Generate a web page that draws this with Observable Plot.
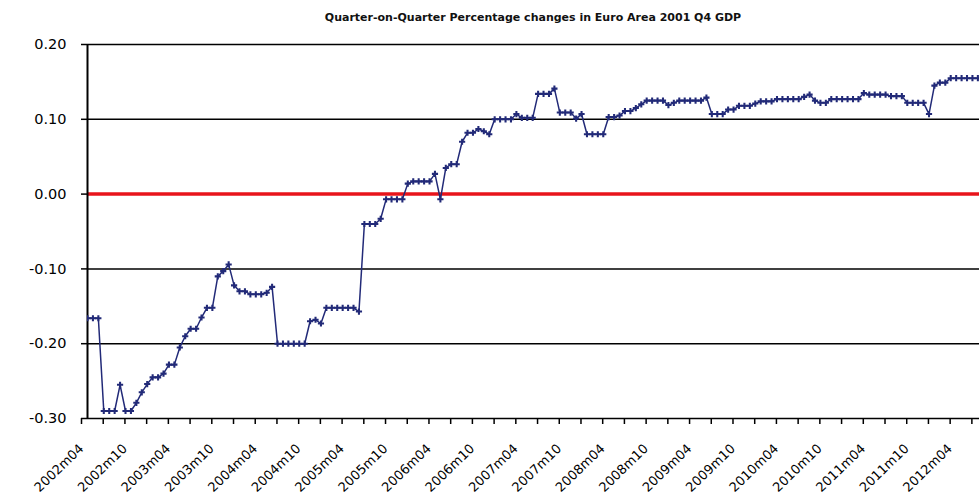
<!DOCTYPE html>
<html>
<head>
<meta charset="utf-8">
<script src="https://cdn.jsdelivr.net/npm/d3@7"></script>
<script src="https://cdn.jsdelivr.net/npm/@observablehq/plot@0.6"></script>
<style>
  html, body { margin: 0; padding: 0; background: #fff; }
  #wrap { width: 979px; height: 504px; position: relative; overflow: hidden; }
  #title { position: absolute; left: 87px; width: 892px; top: 0; height: 30px;
           text-align: center; font: bold 11px "DejaVu Sans", sans-serif; line-height: 36px; color: #111; }
  #chart { position: absolute; left: 0; top: 30px; }
</style>
</head>
<body>
<div id="wrap">
  <div id="title">Quarter-on-Quarter Percentage changes in Euro Area 2001 Q4 GDP</div>
  <div id="chart"></div>
</div>
<script>
// Vintage labels shown on the category axis (every 8th vintage)
const xLabels = ["2002m04","2002m10","2003m04","2003m10","2004m04","2004m10","2005m04","2005m10",
  "2006m04","2006m10","2007m04","2007m10","2008m04","2008m10","2009m04","2009m10",
  "2010m04","2010m10","2011m04","2011m10","2012m04"];

// Estimated q-o-q % change of 2001 Q4 GDP, one value per vintage
const qoqChange = [
  -0.166,-0.166,-0.166,-0.29,-0.29,-0.29,-0.255,-0.29,-0.29,-0.279,
  -0.265,-0.254,-0.245,-0.245,-0.24,-0.228,-0.228,-0.205,-0.19,-0.18,
  -0.18,-0.165,-0.152,-0.152,-0.11,-0.103,-0.094,-0.122,-0.13,-0.13,
  -0.134,-0.134,-0.134,-0.132,-0.124,-0.2,-0.2,-0.2,-0.2,-0.2,
  -0.2,-0.17,-0.168,-0.173,-0.152,-0.152,-0.152,-0.152,-0.152,-0.152,
  -0.157,-0.04,-0.04,-0.04,-0.033,-0.007,-0.007,-0.007,-0.007,0.014,
  0.017,0.017,0.017,0.017,0.027,-0.007,0.035,0.04,0.04,0.07,
  0.082,0.082,0.087,0.084,0.08,0.1,0.1,0.1,0.1,0.107,
  0.102,0.102,0.102,0.134,0.134,0.134,0.141,0.109,0.109,0.109,
  0.101,0.107,0.08,0.08,0.08,0.08,0.103,0.103,0.105,0.111,
  0.111,0.115,0.12,0.125,0.125,0.125,0.125,0.119,0.122,0.125,
  0.125,0.125,0.125,0.125,0.129,0.107,0.107,0.107,0.113,0.113,
  0.118,0.118,0.118,0.121,0.124,0.124,0.124,0.127,0.127,0.127,
  0.127,0.127,0.13,0.133,0.125,0.122,0.122,0.127,0.127,0.127,
  0.127,0.127,0.127,0.135,0.133,0.133,0.133,0.133,0.131,0.131,
  0.131,0.122,0.122,0.122,0.122,0.107,0.145,0.149,0.149,0.155,
  0.155,0.155,0.155,0.155,0.155
];

const yTicks = [-0.3, -0.2, -0.1, 0, 0.1, 0.2];
const gridValues = [-0.2, -0.1, 0.1, 0.2];

const data = qoqChange.map((v, i) => ({i, v}));
const tickIdx = d3.range(0, 165, 4);
const navy = "#222a78";

const chart = Plot.plot({
  width: 979,
  height: 474,
  marginLeft: 87,
  marginRight: 0,
  marginTop: 14,
  marginBottom: 86,
  style: {fontFamily: "'DejaVu Sans', sans-serif", background: "#fff", color: "#000"},
  x: {domain: [0, 164.3], label: null},
  y: {domain: [-0.3, 0.2], label: null},
  marks: [
    Plot.ruleY(gridValues, {stroke: "#000", strokeWidth: 1.5}),
    Plot.ruleY([0], {stroke: "#e8141b", strokeWidth: 3.5}),
    Plot.ruleY([-0.3], {stroke: "#000", strokeWidth: 1.5}),
    Plot.ruleX([0], {stroke: "#000", strokeWidth: 2}),
    Plot.line(data, {x: "i", y: "v", stroke: navy, strokeWidth: 1.5, clip: true}),
    Plot.dot(data, {x: "i", y: "v", symbol: "cross", r: 2.6, fill: navy, stroke: "none", clip: true}),
    Plot.axisY({ticks: yTicks, tickFormat: d => d.toFixed(2), tickSize: 6, tickPadding: 15, label: null,
      fontSize: 14.5, stroke: "#000", fill: "#000", strokeWidth: 1.5, strokeOpacity: 1}),
    Plot.axisX({ticks: tickIdx, tickFormat: i => (i % 8 === 0 ? xLabels[i / 8] : ""), label: null,
      tickRotate: -44, tickSize: 6, tickPadding: 22, dx: -6, fontSize: 13,
      stroke: "#000", fill: "#000", strokeWidth: 1.5, strokeOpacity: 1})
  ]
});
document.getElementById("chart").appendChild(chart);
</script>
</body>
</html>
